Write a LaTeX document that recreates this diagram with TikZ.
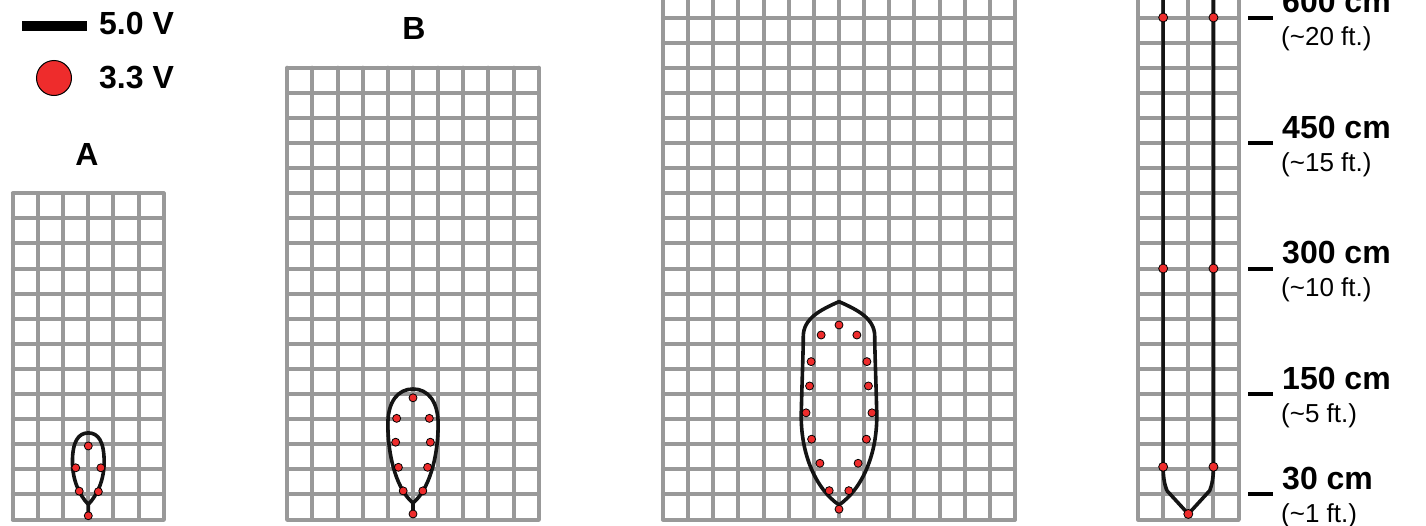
\documentclass[tikz,border=0pt]{standalone}
\usepackage{fontspec}
\setmainfont{Liberation Sans}
\usepackage{xcolor}
\usepackage{tikz}

\definecolor{gridgray}{RGB}{153,153,153}
\definecolor{dotred}{RGB}{238,44,44}

\tikzset{
  gridline/.style={draw=gridgray, line width=4pt, line cap=round, line join=round},
  outline/.style={draw=black!92, line width=3.6pt, line join=round, line cap=round},
  vdot/.style={fill=dotred, draw=black, line width=0.8pt},
  tickmark/.style={draw=black, line width=4pt},
  bigtxt/.style={font=\fontsize{32}{36}\selectfont\bfseries, inner sep=0pt},
  smalltxt/.style={font=\fontsize{26}{30}\selectfont, inner sep=0pt},
}

\begin{document}
\begin{tikzpicture}[x=1pt, y=-1pt]
  \useasboundingbox (0,0) rectangle (1426,525);
  \clip (0,0) rectangle (1426,525);

  % legend
  \draw[line width=10pt] (22,25.7) -- (87,25.7);
  \node[bigtxt, anchor=west] (lgdhi) at (99,23) {5.0 V};
  \draw[fill=dotred, draw=black, line width=1pt] (54,78) circle (17.5pt);
  \node[bigtxt, anchor=west] (lgdlo) at (99,77.5) {3.3 V};

  \node[bigtxt] (labA) at (87,154) {A};
  \node[bigtxt] (labB) at (414,28) {B};

  % A
  \begin{scope}[xshift=88.3pt, yshift=-519.5pt, x=25.15pt, y=25.1pt]
    \draw[gridline, step=1] (-3,0) grid (3,13);
    \draw[outline] (0,0.18) -- (0,0.6) .. controls (-0.38,1.0) and (-0.63,1.6) .. (-0.63,2.3)
      .. controls (-0.63,3.1) and (-0.4,3.45) .. (0,3.45)
      .. controls (0.4,3.45) and (0.63,3.1) .. (0.63,2.3)
      .. controls (0.63,1.6) and (0.38,1.0) .. (0,0.6);
    \foreach \pt in {(0,2.93),(-0.5,2.06),(0.5,2.06),(-0.36,1.13),(0.4,1.11),(0,0.15)}
      \draw[vdot] \pt circle (4pt);
  \end{scope}

  % B
  \begin{scope}[xshift=413pt, yshift=-519.5pt, x=25.15pt, y=25.1pt]
    \draw[gridline, step=1] (-5,0) grid (5,18);
    \draw[outline] (0,0.22) -- (0,0.66) .. controls (-0.6,1.15) and (-1.0,2.4) .. (-1.0,3.8)
      .. controls (-1.0,4.7) and (-0.6,5.2) .. (0,5.2)
      .. controls (0.6,5.2) and (1.0,4.7) .. (1.0,3.8)
      .. controls (1.0,2.4) and (0.6,1.15) .. (0,0.66);
    \foreach \pt in {(0,4.85),(-0.65,4.03),(0.65,4.03),(-0.69,3.08),(0.69,3.08),
        (-0.58,2.08),(0.58,2.08),(-0.39,1.14),(0.39,1.14),(0,0.22)}
      \draw[vdot] \pt circle (4pt);
  \end{scope}

  % C
  \begin{scope}[xshift=839pt, yshift=-519.5pt, x=25.15pt, y=25.1pt]
    \draw[gridline, step=1] (-7,0) grid (7,21);
    \draw[outline] (0,0.41) -- (0,0.58) .. controls (-0.9,1.2) and (-1.55,2.6) .. (-1.5,4.3)
      .. controls (-1.46,5.8) and (-1.42,6.8) .. (-1.42,7.3)
      .. controls (-1.42,8.0) and (-0.75,8.35) .. (0,8.68)
      .. controls (0.75,8.35) and (1.42,8.0) .. (1.42,7.3)
      .. controls (1.42,6.8) and (1.46,5.8) .. (1.5,4.3)
      .. controls (1.55,2.6) and (0.9,1.2) .. (0,0.58);
    \foreach \pt in {(0,7.75),(-0.71,7.35),(0.71,7.35),(-1.11,6.29),(1.11,6.29),
        (-1.17,5.32),(1.17,5.32),(-1.31,4.25),(1.31,4.25),(-1.09,3.2),(1.09,3.2),
        (-0.76,2.24),(0.76,2.24),(-0.39,1.15),(0.39,1.15),(0,0.41)}
      \draw[vdot] \pt circle (4pt);
  \end{scope}

  % D
  \begin{scope}[xshift=1188.3pt, yshift=-519.5pt, x=25.15pt, y=25.1pt]
    \draw[gridline, step=1] (-2,0) grid (2,21);
    \draw[outline] (-1,22) -- (-1,2.1) .. controls (-1,1.7) and (-0.95,1.4) .. (-0.85,1.15)
      -- (0,0.22) -- (0.85,1.15) .. controls (0.95,1.4) and (1,1.7) .. (1,2.1) -- (1,22);
    \foreach \pt in {(-1,20),(1,20),(-1,10),(1,10),(-1,2.1),(1,2.1),(0,0.22)}
      \draw[vdot] \pt circle (4.5pt);
  \end{scope}

  % distance marks
  \foreach \ty/\cmv/\ftv in {17.5/600/20, 143/450/15, 268.5/300/10, 394/150/5, 494.4/30/1} {
    \draw[tickmark] (1248,\ty) -- (1273,\ty);
    \node[bigtxt, anchor=west] (cm\cmv) at (1282,\ty-16) {\cmv\ cm};
    \node[smalltxt, anchor=west] (ft\cmv) at (1281,\ty+21.5) {(\textasciitilde\ftv\ ft.)};
  }
\end{tikzpicture}
\end{document}
